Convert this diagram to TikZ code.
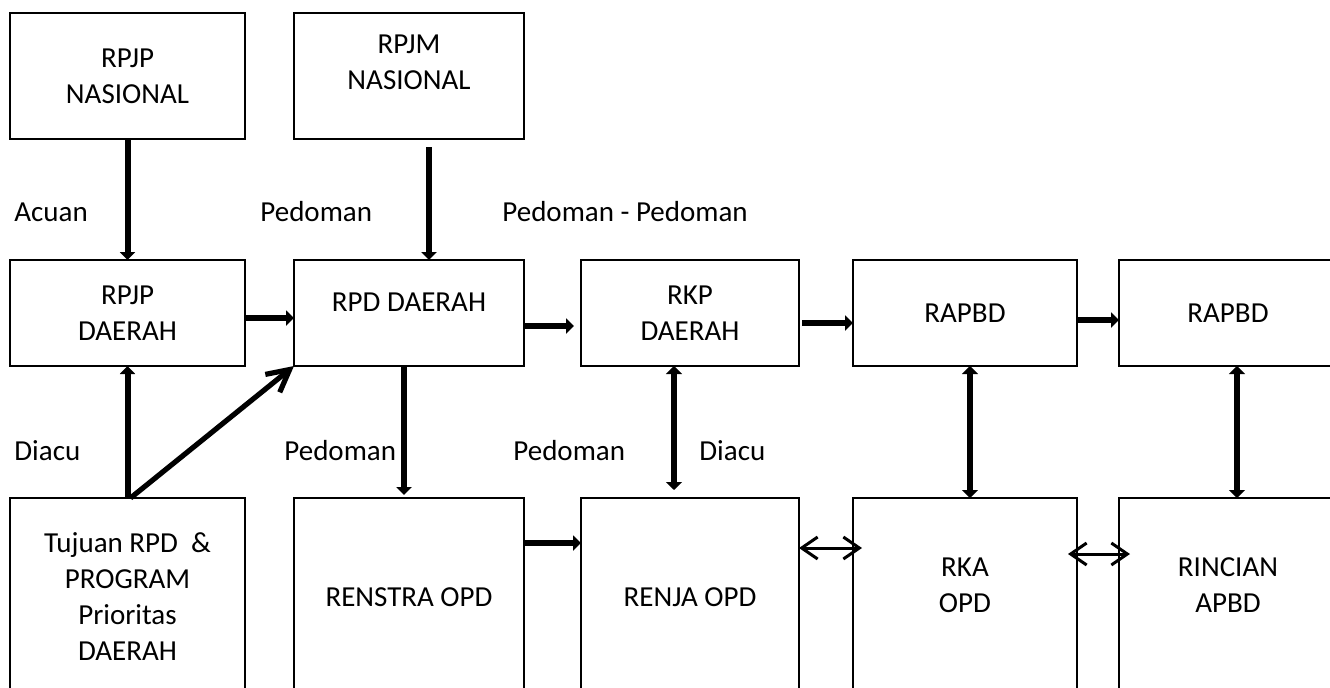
\documentclass[tikz,border=0pt]{standalone}
\usepackage{fontspec}
\setmainfont{Carlito}
\usepackage{tikz}
\usetikzlibrary{arrows.meta, calc, positioning}
\tikzstyle{box} = [rectangle, draw=black, line width=1.2pt, inner sep=0pt, outer sep=0pt, align=center, font=\fontsize{14.5}{18}\selectfont]
\tikzstyle{txt} = [align=center, inner sep=0pt, font=\fontsize{14.5}{18}\selectfont]
\tikzstyle{note} = [anchor=base west, inner sep=0pt, font=\fontsize{14.5}{18}\selectfont]
\tikzstyle{arrow} = [line width=3pt, -{Triangle[length=4pt,width=7.5pt]}]
\tikzstyle{darrow} = [line width=3.4pt, {Triangle[length=4pt,width=8pt]}-{Triangle[length=4pt,width=8pt]}]
\tikzstyle{link} = [line width=1.5pt, {Straight Barb[length=8pt,width=11pt]}-{Straight Barb[length=8pt,width=11pt]}]
\tikzstyle{diag} = [line width=2.6pt, -{Straight Barb[length=11pt,width=11.5pt]}]

\begin{document}
\begin{tikzpicture}[x=0.5pt, y=-0.5pt]
		\useasboundingbox (0,0) rectangle (1330,687);
		\clip (0,0) rectangle (1330,687);
		% top row
		\node (RPJPNas) [box, minimum width=117.5pt, minimum height=63pt, anchor=north west] at (10,13) {RPJP\\NASIONAL};
		\node (RPJMNas) [box, minimum width=115pt, minimum height=63pt, right = 24.5pt of RPJPNas] {};
		\node (RPJMNasText) [txt] at ([yshift=7pt]RPJMNas.center) {RPJM\\NASIONAL};
		% middle row
		\node (RPJPDae) [box, minimum width=117.5pt, minimum height=53pt, below = 60.5pt of RPJPNas] {RPJP\\DAERAH};
		\node (RPDDae) [box, minimum width=115pt, minimum height=53pt, below = 60.5pt of RPJMNas] {};
		\node (RPDDaeText) [txt] at ([yshift=5.5pt]RPDDae.center) {RPD DAERAH};
		\node (RKPDae) [box, minimum width=109pt, minimum height=53pt, right = 28.5pt of RPDDae] {RKP\\DAERAH};
		\node (RAPBDa) [box, minimum width=112pt, minimum height=53pt, right = 27pt of RKPDae] {RAPBD};
		\node (RAPBDb) [box, minimum width=109pt, minimum height=53pt, right = 21pt of RAPBDa] {RAPBD};
		% bottom row
		\node (Tujuan) [box, minimum width=117.5pt, minimum height=99pt, below = 66pt of RPJPDae] {Tujuan RPD \ \&\\PROGRAM\\Prioritas\\DAERAH};
		\node (Renstra) [box, minimum width=115pt, minimum height=99pt, below = 66pt of RPDDae] {RENSTRA OPD};
		\node (Renja) [box, minimum width=109pt, minimum height=99pt, below = 66pt of RKPDae] {RENJA OPD};
		\node (RKA) [box, minimum width=112pt, minimum height=99pt, below = 66pt of RAPBDa] {};
		\node (RKAText) [txt] at ([yshift=6pt]RKA.center) {RKA\\OPD};
		\node (Rincian) [box, minimum width=109pt, minimum height=99pt, below = 66pt of RAPBDb] {};
		\node (RincianText) [txt] at ([yshift=6pt]Rincian.center) {RINCIAN\\APBD};
		% labels
		\node (Acuan) [note] at (14,221) {Acuan};
		\node (PedomanA) [note] at (260,221) {Pedoman};
		\node (PedomanB) [note] at (502,221) {Pedoman - Pedoman};
		\node (DiacuA) [note] at (14,460) {Diacu};
		\node (PedomanC) [note] at (284,460) {Pedoman};
		\node (PedomanD) [note] at (513,460) {Pedoman};
		\node (DiacuB) [note] at (699,460) {Diacu};
		% connectors
		\draw [arrow] (RPJPNas) -- (RPJPDae);
		\draw [arrow] ([xshift=10pt,yshift=-4pt]RPJMNas.south) -- ([xshift=10pt]RPDDae.north);
		\draw [arrow] ([yshift=-2.5pt]RPJPDae.east) -- ([yshift=-2.5pt]RPDDae.west);
		\draw [arrow] ([yshift=-6.5pt]RPDDae.east) -- ([xshift=-3.5pt,yshift=-6.5pt]RKPDae.west);
		\draw [arrow] ([xshift=1.5pt,yshift=-5pt]RKPDae.east) -- ([yshift=-5pt]RAPBDa.west);
		\draw [arrow] ([yshift=-3.5pt]RAPBDa.east) -- ([yshift=-3.5pt]RAPBDb.west);
		\draw [arrow] (Tujuan) -- (RPJPDae);
		\draw [diag] ([xshift=1.5pt]Tujuan.north) -- (RPDDae.south west);
		\draw [arrow] ([xshift=-2.5pt]RPDDae.south) -- ([xshift=-2.5pt,yshift=1.5pt]Renstra.north);
		\draw [arrow] ([yshift=-22.5pt]Renstra.north east) -- ([yshift=-22.5pt]Renja.north west);
		\draw [darrow] ([xshift=-8pt]RKPDae.south) -- ([xshift=-8pt,yshift=4pt]Renja.north);
		\draw [darrow] ([xshift=2.5pt]RAPBDa.south) -- ([xshift=2.5pt]RKA.north);
		\draw [darrow] ([xshift=4.5pt]RAPBDb.south) -- ([xshift=4.5pt]Rincian.north);
		\draw [link] ([yshift=-25pt]Renja.north east) -- ([xshift=4.5pt,yshift=-25pt]RKA.north west);
		\draw [link] ([xshift=-4.5pt,yshift=-28pt]RKA.north east) -- ([xshift=5.5pt,yshift=-28pt]Rincian.north west);
\end{tikzpicture}
\end{document}
